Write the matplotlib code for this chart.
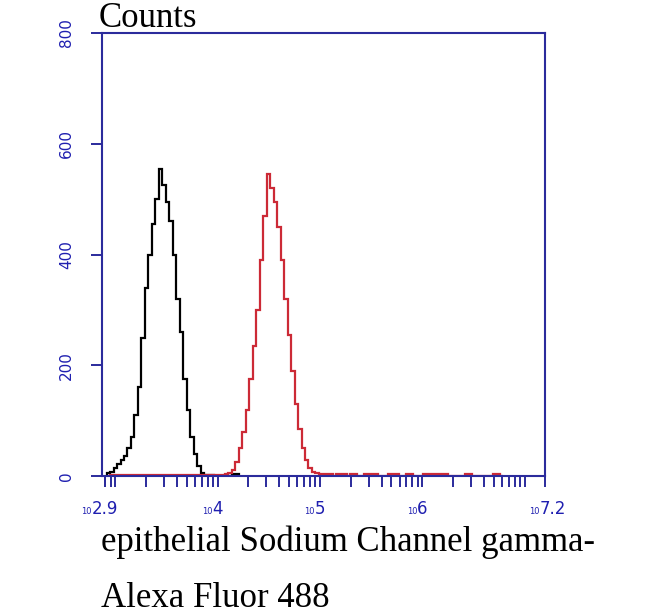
import numpy as np
import matplotlib.pyplot as plt
from matplotlib import transforms
from matplotlib.ticker import FixedLocator, NullFormatter

# histogram data (log10 fluorescence, bin width in decades)
bin_width = 0.034

black_start = 2.915
black_counts = [5, 8, 15, 22, 28, 36, 50, 70, 110, 160, 250, 340, 400, 455, 500,
                555, 525, 495, 460, 400, 320, 260, 175, 120, 70, 40, 18, 6, 2,
                2, 2, 0, 0, 0, 0, 0, 3, 3]

red_start = 2.95
red_counts = [2, 2, 2, 2, 2, 2, 2, 2, 2, 2, 2, 2, 2, 2, 2, 2,
              2, 2, 2, 2, 2, 2, 2, 2, 2, 2, 2, 2, 2, 2, 2, 2,
              2, 4, 6, 10, 25, 50, 80, 120, 175, 235, 300, 390, 470, 545,
              520, 495, 450, 390, 320, 255, 190, 130, 85, 50, 28, 15, 8, 5, 3,
              3, 3, 3, 0, 3, 3, 3, 0, 3, 3, 0, 0, 3, 3, 3, 3, 0, 0, 0,
              3, 3, 3, 0, 0, 3, 3, 0, 0, 0, 3, 3, 3, 3, 3, 3, 3, 0, 0,
              0, 0, 0, 3, 3, 0, 0, 0, 0, 0, 0, 3, 3, 0]

y_ticks = [0, 200, 400, 600, 800]
x_label_exps = ["2.9", "4", "5", "6", "7.2"]

AXIS_BLUE = "#2b2b9c"
LABEL_BLUE = "#1f1fb0"

fig = plt.figure(figsize=(6.5, 6.16), dpi=100)
W, H = 650, 616
ax = fig.add_axes([102 / W, 1 - 476 / H, (545 - 102) / W, (476 - 33) / H])


def edges(start, n):
    return 10 ** (start + bin_width * np.arange(n + 1))


ax.stairs(black_counts, edges(black_start, len(black_counts)),
          color="black", linewidth=1.6, baseline=0)
ax.stairs(red_counts, edges(red_start, len(red_counts)),
          color="#cc2a36", linewidth=1.6, baseline=0)

ax.set_xscale("log")
ax.set_xlim(10 ** 2.87, 10 ** 7.2)
ax.set_ylim(0, 800)

for s in ax.spines.values():
    s.set_color(AXIS_BLUE)
    s.set_linewidth(1.5)

# x ticks: decades plus every minor position
xt = [10 ** 2.9, 10 ** 7.2]
for d in range(2, 8):
    for m in range(1, 10):
        v = m * 10 ** d
        if 10 ** 2.9 < v < 10 ** 7.2:
            xt.append(v)
ax.xaxis.set_major_locator(FixedLocator(xt))
ax.xaxis.set_minor_locator(FixedLocator([]))
ax.xaxis.set_major_formatter(NullFormatter())
ax.xaxis.set_minor_formatter(NullFormatter())
ax.tick_params(axis="x", direction="out", length=8, width=1.4, color=AXIS_BLUE)

ax.set_yticks(y_ticks)
ax.set_yticklabels([str(v) for v in y_ticks], rotation=90, va="center",
                   color=LABEL_BLUE, fontsize=11)
ax.tick_params(axis="y", direction="out", length=8, width=1.4,
               color=AXIS_BLUE, pad=12)

# custom x tick labels: small "10" followed by the exponent
y_lab = (476 - 514) / 443
for e in x_label_exps:
    xv = 10 ** float(e)
    shift = -13 if e == "2.9" else -5
    tr = transforms.offset_copy(ax.get_xaxis_transform(), fig=fig,
                                x=shift, y=0, units="dots")
    ax.text(xv, y_lab, "10", transform=tr, ha="right", va="baseline",
            fontsize=6, color=LABEL_BLUE, clip_on=False)
    ax.text(xv, y_lab, e, transform=tr, ha="left", va="baseline",
            fontsize=12, color=LABEL_BLUE, clip_on=False)

serif = "Liberation Serif"
fig.text(99 / W, 1 - 27 / H, "Counts", family=serif, fontsize=25,
         va="baseline", ha="left")
fig.text(101 / W, 1 - 551 / H, "epithelial Sodium Channel gamma-",
         family=serif, fontsize=25, va="baseline", ha="left")
fig.text(101 / W, 1 - 607 / H, "Alexa Fluor 488",
         family=serif, fontsize=25, va="baseline", ha="left")

fig.savefig("out.png", dpi=100)
